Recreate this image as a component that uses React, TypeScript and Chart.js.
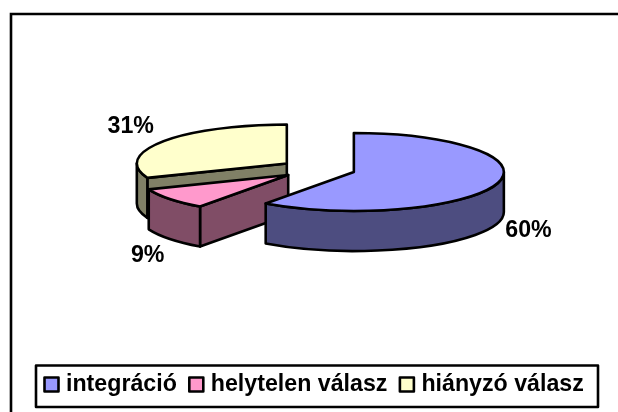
import React, { useEffect, useRef } from "react";
import { Chart, registerables } from "chart.js";

Chart.register(...registerables);

const categories = ["integráció", "helytelen válasz", "hiányzó válasz"];
const values = [60, 9, 31];
const topColors = ["#9999FF", "#FF99CC", "#FFFFCC"];
const wallColors = ["#4D4D80", "#804D66", "#808066"];
const labelShift = [
  [32, 47],
  [-22, 57],
  [-32, -15],
];

const RADIUS = 150;
const SQUASH = 0.26;
const DEPTH = 40;
const EXPLODE = 37.7;
const FONT = 'bold 23.2px "Liberation Sans", Arial, sans-serif';

const pie3d = {
  id: "pie3d",
  beforeDraw(chart: any) {
    const ctx = chart.ctx;
    ctx.save();
    ctx.fillStyle = "#FFFFFF";
    ctx.fillRect(0, 0, chart.width, chart.height);
    ctx.strokeStyle = "#000000";
    ctx.lineWidth = 2.6;
    ctx.beginPath();
    ctx.moveTo(11, chart.height);
    ctx.lineTo(11, 14);
    ctx.lineTo(chart.width, 14);
    ctx.stroke();
    ctx.restore();
  },
  beforeDatasetsDraw(chart: any) {
    const ctx = chart.ctx;
    const arcs = chart.getDatasetMeta(0).data;
    const geo = arcs.map((el: any) => {
      const mid = (el.startAngle + el.endAngle) / 2;
      return {
        el,
        mid,
        s: el.startAngle,
        e: el.endAngle,
        r: el.outerRadius,
        x: el.x + EXPLODE * Math.cos(mid),
        y: el.y + EXPLODE * Math.sin(mid) * SQUASH,
      };
    });
    ctx.save();
    ctx.lineJoin = "round";
    ctx.lineWidth = 2.6;
    ctx.strokeStyle = "#000000";

    const face = (g: any, a: number, color: string) => {
      const px = g.x + g.r * Math.cos(a);
      const py = g.y + g.r * SQUASH * Math.sin(a);
      ctx.beginPath();
      ctx.moveTo(g.x, g.y);
      ctx.lineTo(px, py);
      ctx.lineTo(px, py + DEPTH);
      ctx.lineTo(g.x, g.y + DEPTH);
      ctx.closePath();
      ctx.fillStyle = color;
      ctx.fill();
      ctx.stroke();
    };

    // Walls, back to front
    [2, 1, 0].forEach((i) => {
      const g = geo[i];
      if (Math.cos(g.s) < -0.01) face(g, g.s, wallColors[i]);
      if (Math.cos(g.e) > 0.01) face(g, g.e, wallColors[i]);
      const a0 = Math.max(g.s, 0);
      const a1 = Math.min(g.e, Math.PI);
      if (a1 > a0) {
        ctx.beginPath();
        ctx.ellipse(g.x, g.y, g.r, g.r * SQUASH, 0, a0, a1);
        ctx.ellipse(g.x, g.y + DEPTH, g.r, g.r * SQUASH, 0, a1, a0, true);
        ctx.closePath();
        ctx.fillStyle = wallColors[i];
        ctx.fill();
        ctx.stroke();
      }
    });

    // Top faces: the library's own arcs, squashed and moved out
    geo.forEach((g: any) => {
      ctx.save();
      ctx.translate(g.x, g.y);
      ctx.scale(1, SQUASH);
      ctx.translate(-g.el.x, -g.el.y);
      g.el.draw(ctx);
      ctx.restore();
      ctx.beginPath();
      ctx.moveTo(g.x, g.y);
      ctx.ellipse(g.x, g.y, g.r, g.r * SQUASH, 0, g.s, g.e);
      ctx.closePath();
      ctx.stroke();
    });

    // Percent labels
    const total = values.reduce((a, b) => a + b, 0);
    ctx.font = FONT;
    ctx.fillStyle = "#000000";
    ctx.textAlign = "center";
    ctx.textBaseline = "middle";
    geo.forEach((g: any, i: number) => {
      const rx = g.x + g.r * Math.cos(g.mid);
      const ry = g.y + g.r * SQUASH * Math.sin(g.mid);
      ctx.fillText(
        `${Math.round((values[i] / total) * 100)}%`,
        rx + labelShift[i][0],
        ry + labelShift[i][1]
      );
    });

    // Legend
    ctx.strokeRect(36, 365.5, 562, 41.5);
    ctx.textAlign = "left";
    let x = 44.5;
    categories.forEach((name, i) => {
      ctx.fillStyle = topColors[i];
      ctx.fillRect(x, 377.5, 14, 14);
      ctx.strokeRect(x, 377.5, 14, 14);
      ctx.fillStyle = "#000000";
      ctx.fillText(name, x + 21.5, 385);
      x += 21.5 + ctx.measureText(name).width + 12.5;
    });
    ctx.restore();
    return false;
  },
};

export default function App() {
  const ref = useRef<HTMLCanvasElement>(null);
  useEffect(() => {
    const chart = new Chart(ref.current as HTMLCanvasElement, {
      type: "pie",
      data: {
        labels: categories,
        datasets: [
          {
            data: values,
            backgroundColor: topColors,
            borderWidth: 0,
            radius: RADIUS,
          } as any,
        ],
      },
      options: {
        responsive: false,
        animation: false,
        layout: { padding: { left: 18, right: 0, top: 0, bottom: 74 } },
        plugins: {
          legend: { display: false },
          tooltip: { enabled: false },
        },
      },
      plugins: [pie3d],
    } as any);
    return () => chart.destroy();
  }, []);
  return (
    <div style={{ position: "fixed", left: 0, top: 0, width: 618, height: 412 }}>
      <canvas ref={ref} width={618} height={412} style={{ display: "block" }} />
    </div>
  );
}
